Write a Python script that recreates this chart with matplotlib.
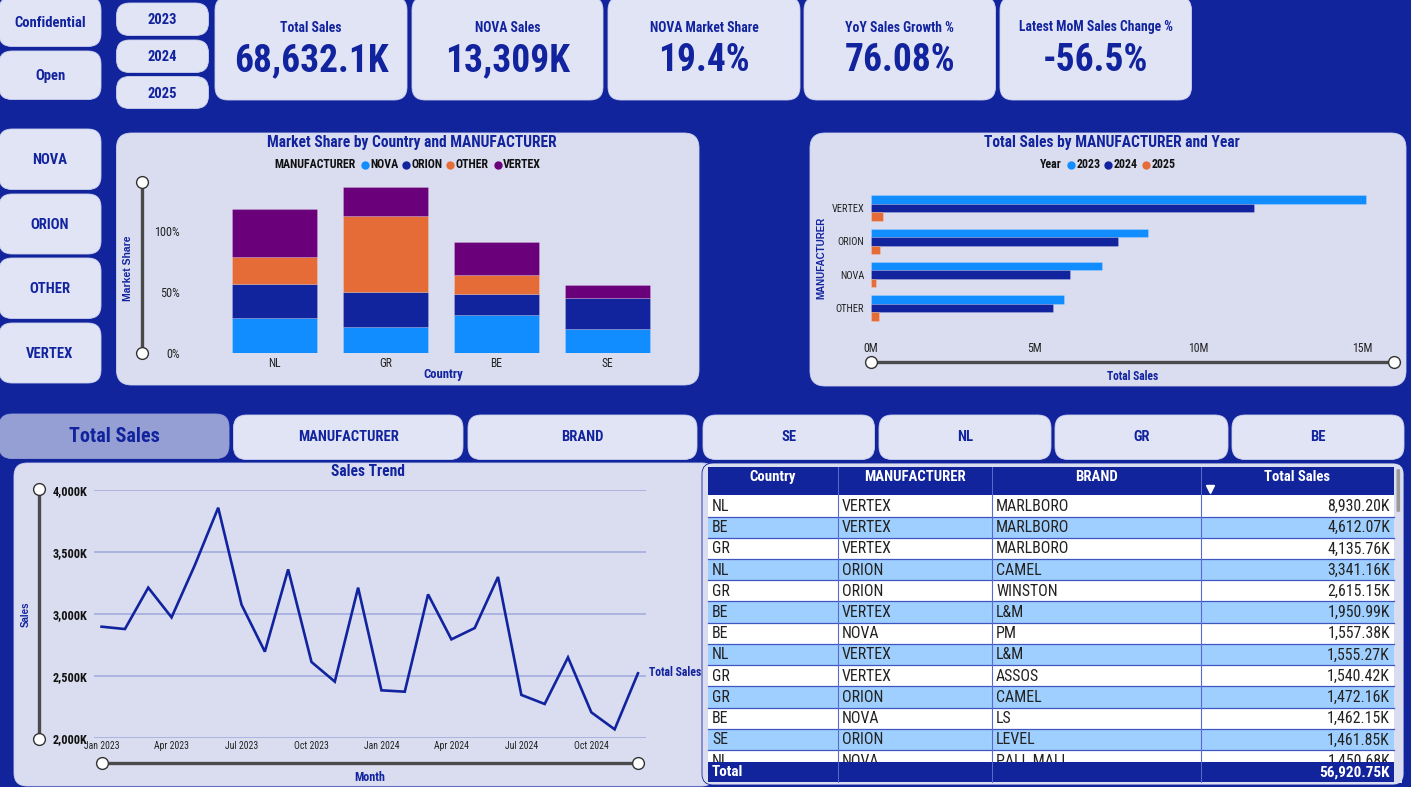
import matplotlib
matplotlib.use("Agg")
import matplotlib.pyplot as plt
from matplotlib.patches import FancyBboxPatch, Rectangle

W, H = 1411, 787

NAVY = '#11249B'
CARD = '#E1E4F5'
PANEL = '#DADDF0'
ACTIVE = '#959FD4'
BLUE = '#118DFF'
DARK = '#12239E'
ORANGE = '#E66C37'
PURPLE = '#6B007B'
ROW = '#9FCFFF'
GRID = '#A3ACE0'
SLIDER = '#4A4A4A'

NARROW = ['Roboto Condensed', 'Roboto', 'DejaVu Sans']
WIDE = ['Liberation Sans', 'DejaVu Sans']
plt.rcParams['font.family'] = NARROW

# kpi cards
kpi_titles = ['Total Sales', 'NOVA Sales', 'NOVA Market Share', 'YoY Sales Growth %', 'Latest MoM Sales Change %']
kpi_values = ['68,632.1K', '13,309K', '19.4%', '76.08%', '-56.5%']

# market share chart
countries = ['NL', 'GR', 'BE', 'SE']
share_nova = [28.4, 21.3, 30.9, 19.7]
share_orion = [27.9, 29.0, 17.7, 25.2]
share_other = [22.1, 62.3, 15.6, 0.0]
share_vertex = [39.6, 23.3, 26.6, 10.7]

# sales by manufacturer, in millions
manufacturers = ['VERTEX', 'ORION', 'NOVA', 'OTHER']
sales_2023 = [15.13, 8.46, 7.04, 5.89]
sales_2024 = [11.71, 7.54, 6.08, 5.55]
sales_2025 = [0.37, 0.29, 0.15, 0.23]

# monthly trend, in thousands
trend_sales = [2898, 2879, 3212, 2973, 3394, 3855, 3075, 2697, 3359, 2614, 2456, 3212,
               2386, 2375, 3158, 2796, 2887, 3298, 2349, 2276, 2651, 2209, 2072, 2523]
month_labels = ['Jan 2023', 'Apr 2023', 'Jul 2023', 'Oct 2023', 'Jan 2024', 'Apr 2024', 'Jul 2024', 'Oct 2024']

# table
table_country = ['NL', 'BE', 'GR', 'NL', 'GR', 'BE', 'BE', 'NL', 'GR', 'GR', 'BE', 'SE', 'NL']
table_manufacturer = ['VERTEX', 'VERTEX', 'VERTEX', 'ORION', 'ORION', 'VERTEX', 'NOVA', 'VERTEX', 'VERTEX',
                      'ORION', 'NOVA', 'ORION', 'NOVA']
table_brand = ['MARLBORO', 'MARLBORO', 'MARLBORO', 'CAMEL', 'WINSTON', 'L&M', 'PM', 'L&M', 'ASSOS',
               'CAMEL', 'LS', 'LEVEL', 'PALL MALL']
table_sales = ['8,930.20K', '4,612.07K', '4,135.76K', '3,341.16K', '2,615.15K', '1,950.99K', '1,557.38K',
               '1,555.27K', '1,540.42K', '1,472.16K', '1,462.15K', '1,461.85K', '1,450.68K']
table_total = '56,920.75K'


def px_axes(fig, left, top, right, bottom):
    ax = fig.add_axes([left / W, 1 - bottom / H, (right - left) / W, (bottom - top) / H])
    ax.patch.set_alpha(0)
    for s in ax.spines.values():
        s.set_visible(False)
    return ax


def card(ax, x0, y0, x1, y1, color=CARD, r=13, edge='#CDD2F0'):
    ax.add_patch(FancyBboxPatch((x0, y0), x1 - x0, y1 - y0, boxstyle=f'round,pad=0,rounding_size={r}',
                                fc=color, ec=edge, lw=0.6, zorder=1))


def label(ax, x, y, s, size=10, weight='bold', color=DARK, ha='center', **kw):
    ax.text(x, y, s, fontsize=size, fontweight=weight, color=color, ha=ha, va='center', zorder=5, **kw)


def slider(ax, x0, y0, x1, y1):
    ax.plot([x0, x1], [y0, y1], color=SLIDER, lw=2.4, zorder=3, solid_capstyle='butt')
    ax.plot([x0, x1], [y0, y1], ls='', marker='o', ms=8.5, mfc='white', mec='#333333', mew=1, zorder=4)


fig = plt.figure(figsize=(W / 100, H / 100), dpi=100, facecolor=NAVY)
bg = fig.add_axes([0, 0, 1, 1])
bg.set_xlim(0, W)
bg.set_ylim(H, 0)
bg.axis('off')

# left buttons
for (y0, y1, s) in [(-3, 46.5, 'Confidential'), (51, 99.5, 'Open')]:
    card(bg, -1, y0, 101, y1)
    label(bg, 50, (y0 + y1) / 2 + 1, s, 10.5)
for (y0, y1, s) in [(3, 35.5, '2023'), (40, 72.5, '2024'), (76.5, 108.5, '2025')]:
    card(bg, 116.5, y0, 208.5, y1)
    label(bg, 162.5, (y0 + y1) / 2 + 1, s, 10.5)
for (y0, y1, s) in [(129, 189.5, 'NOVA'), (194, 254, 'ORION'), (258, 318.5, 'OTHER'), (323, 383, 'VERTEX')]:
    card(bg, -1, y0, 101, y1)
    label(bg, 50, (y0 + y1) / 2 + 1, s, 10.5)

# kpis
for (x0, x1), t, v in zip([(215, 407), (412, 603), (608, 800), (804, 995.5), (1000, 1191.5)], kpi_titles, kpi_values):
    card(bg, x0, -3, x1, 100)
    label(bg, (x0 + x1) / 2, 27.5, t, 9.8)
    label(bg, (x0 + x1) / 2, 60.5, v, 27)

# market share panel
card(bg, 116.5, 133, 699, 385, PANEL, 15)
label(bg, 412, 142, 'Market Share by Country and MANUFACTURER', 11.2)
label(bg, 274.5, 164.5, 'MANUFACTURER', 8.6, color='#111111', ha='left')
for x, c, s in [(365, BLUE, 'NOVA'), (405.5, DARK, 'ORION'), (450, ORANGE, 'OTHER'), (497.5, PURPLE, 'VERTEX')]:
    bg.plot([x], [164.5], 'o', ms=5, color=c, zorder=5)
    label(bg, x + 5.5, 164.5, s, 8.6, color='#111111', ha='left')
slider(bg, 141.5, 181.5, 141.5, 353)
label(bg, 128, 268, 'Market Share', 7.5, family=WIDE, rotation=90)
label(bg, 443, 374.5, 'Country', 9.1)

ax1 = px_axes(fig, 205, 170, 680, 353)
ax1.set_xlim(-0.626, 3.653)
ax1.set_ylim(0, 150)
bottom = [0, 0, 0, 0]
for vals, c in [(share_nova, BLUE), (share_orion, DARK), (share_other, ORANGE), (share_vertex, PURPLE)]:
    ax1.bar(range(4), vals, width=0.766, bottom=bottom, color=c, edgecolor='#FFFFFF40', linewidth=0.5)
    bottom = [b + v for b, v in zip(bottom, vals)]
ax1.set_xticks(range(4), countries, fontsize=8.3, color='#222222')
ax1.set_yticks([0, 50, 100], ['0%', '50%', '100%'], fontsize=8.8, color='#222222')
ax1.tick_params(length=0)
ax1.tick_params(axis='x', pad=3)
ax1.tick_params(axis='y', pad=18)

# sales by manufacturer panel
card(bg, 810, 133, 1406, 386, PANEL, 15)
label(bg, 1112, 142, 'Total Sales by MANUFACTURER and Year', 11.2)
label(bg, 1040, 164.5, 'Year', 8.6, color='#111111', ha='left')
for x, c, s in [(1071, BLUE, '2023'), (1108, DARK, '2024'), (1146, ORANGE, '2025')]:
    bg.plot([x], [164.5], 'o', ms=5, color=c, zorder=5)
    label(bg, x + 5.5, 164.5, s, 8.6, color='#111111', ha='left')
slider(bg, 870.5, 361.5, 1394, 361.5)
label(bg, 1132.5, 376.5, 'Total Sales', 8.3)
label(bg, 821.5, 258, 'MANUFACTURER', 7, family=WIDE, rotation=90)

ax2 = px_axes(fig, 871, 175, 1394, 335)
ax2.set_xlim(0, 15.97)
ax2.set_ylim(3 + 0.81, -0.99)
for i, (vals, c) in enumerate([(sales_2023, BLUE), (sales_2024, DARK), (sales_2025, ORANGE)]):
    ax2.barh([p + (i - 1) * 0.255 for p in range(4)], vals, height=0.255, color=c,
             edgecolor='#FFFFFF40', linewidth=0.5)
ax2.set_yticks(range(4), manufacturers, fontsize=7.5, color='#222222')
ax2.set_xticks([0, 5, 10, 15], ['0M', '5M', '10M', '15M'], fontsize=8.5, color='#222222')
ax2.tick_params(length=0)
ax2.tick_params(axis='y', pad=5)
ax2.tick_params(axis='x', pad=5)

# tabs
card(bg, -1, 414, 229, 458.5, ACTIVE, edge=ACTIVE)
label(bg, 114, 437, 'Total Sales', 14.5)
for x0, x1, s in [(233.5, 463, 'MANUFACTURER'), (468, 697, 'BRAND'), (703, 874.5, 'SE'), (879, 1051, 'NL'),
                  (1055, 1228, 'GR'), (1232, 1404, 'BE')]:
    card(bg, x0, 415, x1, 459.5)
    label(bg, (x0 + x1) / 2, 437, s, 10.5)

# trend panel
card(bg, 14, 463, 715, 786, PANEL, 13)
label(bg, 368, 472, 'Sales Trend', 11.2)
slider(bg, 39, 489, 39, 739)
slider(bg, 101.5, 762.5, 638, 762.5)
label(bg, 26, 614, 'Sales', 7, family=WIDE, rotation=90)
label(bg, 370, 777.5, 'Month', 8.7)
label(bg, 649, 672.5, 'Total Sales', 8.5, ha='left')

ax3 = px_axes(fig, 94, 489.7, 646, 738.3)
ax3.set_xlim(-0.326, 23.345)
ax3.set_ylim(2000, 4000)
ax3.grid(axis='y', color=GRID, lw=1.2)
ax3.set_axisbelow(True)
ax3.plot(range(24), trend_sales, color=DARK, lw=1.9, solid_joinstyle='miter', clip_on=False)
ax3.set_yticks([2000, 2500, 3000, 3500, 4000], ['2,000K', '2,500K', '3,000K', '3,500K', '4,000K'],
               fontsize=8.8, fontweight='bold', color='#111111')
ax3.set_xticks(range(0, 24, 3), month_labels, fontsize=7, color='#222222')
ax3.tick_params(length=0)
ax3.tick_params(axis='y', pad=5)
ax3.tick_params(axis='x', pad=2)

# table
card(bg, 702, 463, 1404, 785, PANEL, 11, edge=NAVY)
col_x = [708, 837.5, 992, 1201, 1393.5]
row_h = 21.22
top = 495.3
for i in range(len(table_sales)):
    y = top + i * row_h
    bg.add_patch(Rectangle((708, y), 685.5, row_h, fc=ROW if i % 2 else 'white', ec='none', zorder=2))
    bg.plot([708, 1393.5], [y + row_h, y + row_h], color='#3F55C0', lw=0.9, zorder=3)
    ym = y + row_h / 2 + 0.5
    label(bg, 712, ym, table_country[i], 11.4, 'normal', '#222222', 'left')
    label(bg, 842, ym, table_manufacturer[i], 11.4, 'normal', '#222222', 'left')
    label(bg, 996, ym, table_brand[i], 11.4, 'normal', '#222222', 'left')
    label(bg, 1390, ym, table_sales[i], 11.4, 'normal', '#222222', 'right')
for x in col_x[1:4]:
    bg.plot([x, x], [top, 764], color='#5A6CCB', lw=0.8, zorder=3)
bg.add_patch(Rectangle((708, 466.7), 685.5, 28.6, fc=NAVY, ec='none', zorder=6))
bg.add_patch(Rectangle((708, 762), 685.5, 20.3, fc=NAVY, ec='none', zorder=6))
bg.add_patch(Rectangle((1393.5, 760), 8, 23, fc=PANEL, ec='none', zorder=6))
for x in col_x[1:4]:
    bg.plot([x, x], [466.7, 495.3], color='#5A6CCB', lw=0.7, zorder=7)
    bg.plot([x, x], [762, 782.3], color='#5A6CCB', lw=0.7, zorder=7)
for x, s in zip([772.5, 914.5, 1096, 1297], ['Country', 'MANUFACTURER', 'BRAND', 'Total Sales']):
    bg.text(x, 477, s, fontsize=10.6, fontweight='bold', color='white', ha='center', va='center', zorder=8)
bg.plot([1210], [488.5], 'v', ms=5.5, color='white', zorder=8)
bg.text(712, 772.5, 'Total', fontsize=11, fontweight='bold', color='white', ha='left', va='center', zorder=8)
bg.text(1390, 772.5, table_total, fontsize=11, fontweight='bold', color='white', ha='right', va='center', zorder=8)
bg.add_patch(FancyBboxPatch((1396.5, 469), 3.6, 43, boxstyle='round,pad=0,rounding_size=1.5', fc='#9A9A9A', ec='none', zorder=8))

fig.savefig('out.png', dpi=100, facecolor=NAVY)
